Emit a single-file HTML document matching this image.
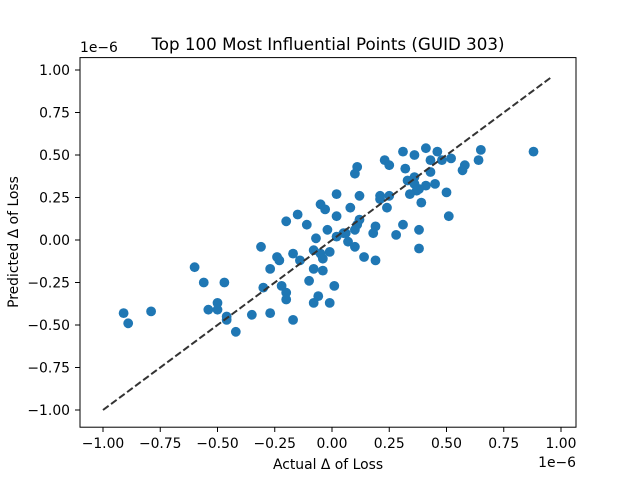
<!DOCTYPE html>
<html><head><meta charset="utf-8"><style>
body{margin:0;background:#fff}
svg{display:block;font-family:"DejaVu Sans","Liberation Sans",sans-serif}
</style></head><body>
<svg id="chart" width="640" height="480">
<rect width="640" height="480" fill="#fff"/>
<text x="328" y="50" font-size="16.7" text-anchor="middle">Top 100 Most Influential Points (GUID 303)</text>
<g id="grid"></g>
<g id="marks"></g>
<rect x="80" y="57.6" width="496" height="369.6" fill="none" stroke="#000" stroke-width="1"/>
<text x="328" y="469" font-size="13.9" text-anchor="middle">Actual Δ of Loss</text>
<text transform="translate(18,242) rotate(-90)" font-size="13.9" text-anchor="middle">Predicted Δ of Loss</text>
<text x="80" y="52" font-size="13.9">1e−6</text>
<text x="576" y="467" font-size="13.9" text-anchor="end">1e−6</text>
</svg>
<script>
const actualX = [-0.91,-0.89,-0.79,-0.60,-0.56,-0.47,-0.50,-0.54,-0.50,-0.46,-0.46,-0.42,-0.35,-0.27,-0.17,-0.30,-0.27,-0.31,-0.24,-0.23,-0.17,-0.14,-0.22,-0.20,-0.20,-0.10,-0.08,-0.08,-0.06,-0.20,-0.15,-0.11,-0.05,-0.03,-0.07,-0.08,-0.05,-0.04,-0.04,-0.02,-0.01,-0.01,
0.88,0.65,0.64,0.52,0.48,0.46,0.41,0.43,0.36,0.31,0.23,0.25,0.11,0.10,0.58,0.57,0.32,0.43,0.36,0.33,0.45,0.36,0.41,0.38,0.37,0.34,0.50,0.39,0.51,0.21,0.25,0.21,0.24,0.12,0.02,0.08,0.02,0.31,0.19,0.18,0.28,0.38,0.38,0.11,0.10,0.06,0.05,0.02,0.07,0.10,0.14,0.19,0.01,0.12];
const predictedY = [-0.43,-0.49,-0.42,-0.16,-0.25,-0.25,-0.37,-0.41,-0.41,-0.45,-0.47,-0.54,-0.44,-0.43,-0.47,-0.28,-0.17,-0.04,-0.10,-0.12,-0.08,-0.12,-0.27,-0.31,-0.35,-0.24,-0.17,-0.37,-0.33,0.11,0.15,0.09,0.21,0.18,0.01,-0.06,-0.08,-0.11,-0.18,0.06,-0.07,-0.37,
0.52,0.53,0.47,0.48,0.47,0.52,0.54,0.47,0.50,0.52,0.47,0.44,0.43,0.39,0.44,0.41,0.42,0.40,0.37,0.35,0.33,0.33,0.32,0.30,0.29,0.27,0.28,0.22,0.14,0.26,0.26,0.24,0.19,0.26,0.27,0.19,0.14,0.09,0.08,0.04,0.03,0.06,-0.05,0.09,0.06,0.04,0.04,0.02,-0.01,-0.04,-0.10,-0.12,-0.27,0.12];
const xTicks = [-1.00,-0.75,-0.50,-0.25,0.00,0.25,0.50,0.75,1.00];
const yTicks = [-1.00,-0.75,-0.50,-0.25,0.00,0.25,0.50,0.75,1.00];
const diagLine = [-1.0, 0.96];

const NS = "http://www.w3.org/2000/svg";
const sx = v => 332 + v * 229;
const sy = v => 240 - v * 170;
const fmt = t => t.toFixed(2).replace('-', '\u2212');
function mk(tag, attrs, parent){const e=document.createElementNS(NS,tag);for(const k in attrs)e.setAttribute(k,attrs[k]);parent.appendChild(e);return e;}
const grid = document.getElementById('grid'), marks = document.getElementById('marks');
xTicks.forEach(t=>{
  const x = sx(t);
  const l = mk('line',{x1:x,x2:x,y1:427.2,y2:432,stroke:'#000','stroke-width':1},grid);
  
  
  const tx = mk('text',{x:x,y:448,'font-size':13.9,'text-anchor':'middle'},grid);
  tx.textContent = fmt(t);
  
  
});
yTicks.forEach(t=>{
  const y = sy(t);
  const l = mk('line',{x1:75,x2:80,y1:y,y2:y,stroke:'#000','stroke-width':1},grid);
  
  
  const tx = mk('text',{x:70,y:y+5,'font-size':13.9,'text-anchor':'end'},grid);
  tx.textContent = fmt(t);
  
  
});
actualX.forEach((v,i)=>{
  const c = mk('circle',{cx:sx(v),cy:sy(predictedY[i]),r:4.9,fill:'#1f77b4'},marks);
  
  
});
const d = mk('line',{x1:sx(diagLine[0]),y1:sy(diagLine[0]),x2:sx(diagLine[1]),y2:sy(diagLine[1]),stroke:'#333','stroke-width':2,'stroke-dasharray':'7,3'},marks);


</script>
</body></html>
